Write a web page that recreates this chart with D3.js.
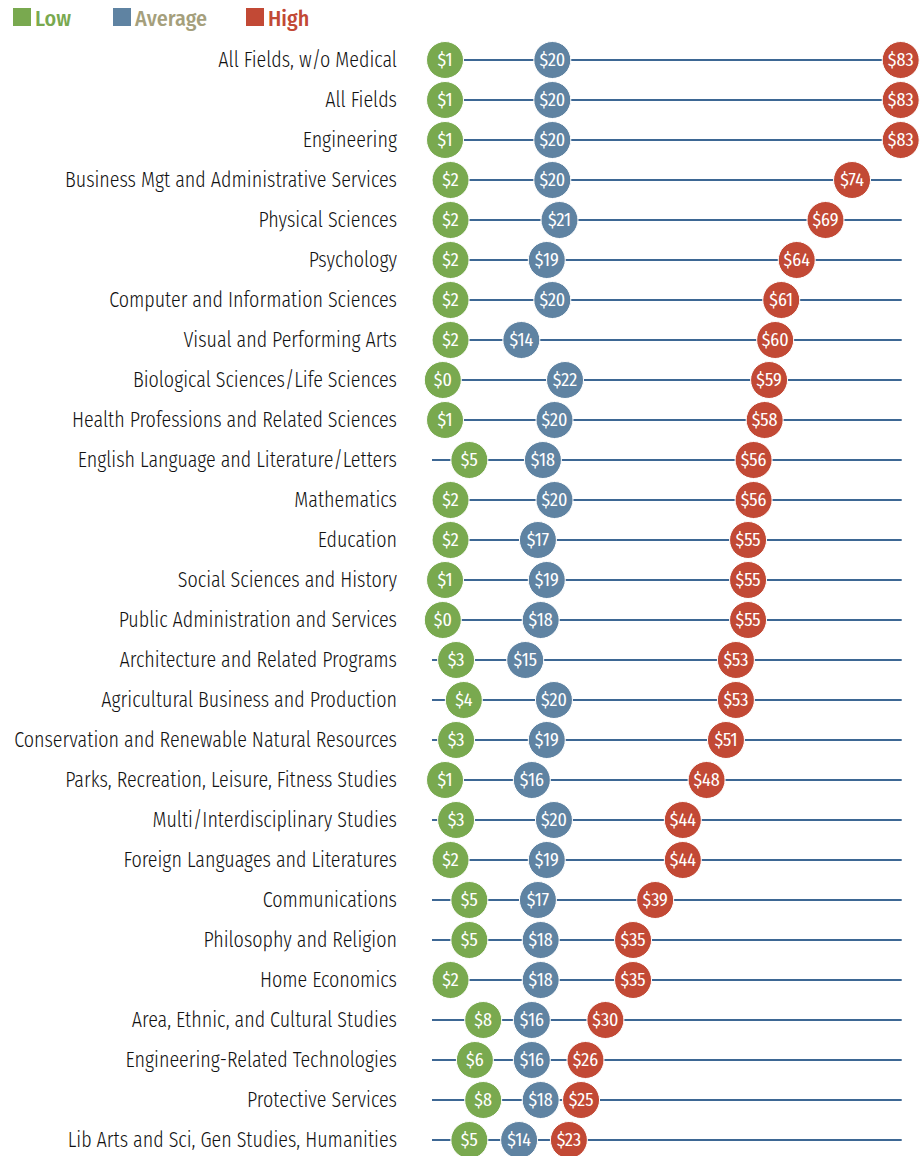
<!DOCTYPE html>
<html><head><meta charset="utf-8">
<script src="https://cdn.jsdelivr.net/npm/d3@7"></script>
<style>
html,body{margin:0;padding:0;background:#fff;}
svg{display:block;}
</style></head>
<body>
<svg id="chart" width="924" height="1156"></svg>
<script>
const categories = [
  "All Fields, w/o Medical","All Fields","Engineering","Business Mgt and Administrative Services",
  "Physical Sciences","Psychology","Computer and Information Sciences","Visual and Performing Arts",
  "Biological Sciences/Life Sciences","Health Professions and Related Sciences",
  "English Language and Literature/Letters","Mathematics","Education","Social Sciences and History",
  "Public Administration and Services","Architecture and Related Programs",
  "Agricultural Business and Production","Conservation and Renewable Natural Resources",
  "Parks, Recreation, Leisure, Fitness Studies","Multi/Interdisciplinary Studies",
  "Foreign Languages and Literatures","Communications","Philosophy and Religion","Home Economics",
  "Area, Ethnic, and Cultural Studies","Engineering-Related Technologies","Protective Services",
  "Lib Arts and Sci, Gen Studies, Humanities"
];
const lowValues  = [0.6,0.6,0.6,1.6,1.6,1.6,1.6,1.6,0.2,0.6,5.0,1.6,1.6,0.6,0.2,2.6,4.0,2.6,0.6,2.6,1.6,5.0,5.0,1.6,7.5,6.0,7.5,5.0];
const avgValues  = [20.0,20.0,20.0,20.0,21.3,19.0,20.0,14.4,22.3,20.4,18.3,20.4,17.4,19.0,17.9,15.1,20.3,19.0,16.3,20.3,19.0,17.4,17.9,17.9,16.3,16.3,17.9,14.0];
const highValues = [83.0,83.0,83.0,74.2,69.4,64.2,61.4,60.3,59.2,58.4,56.4,56.4,55.4,55.4,55.4,53.2,53.2,51.4,47.9,43.6,43.6,38.6,34.6,34.6,29.6,26.0,25.2,23.0];
const seriesNames = ["Low","Average","High"];
const seriesColors = ["#79a94f","#5f83a2","#c24935"];
const legendTextColors = ["#79a94f","#a59f7c","#c24935"];

const svg = d3.select("#chart");
const font = "'Fira Sans Condensed','DejaVu Sans Condensed','Liberation Sans Narrow',sans-serif";

const x = d3.scaleLinear().domain([0, 83]).range([441.7, 900.7]);
const y = d3.scalePoint().domain(categories).range([60, 1140]);
const r = 18.5;

// legend
const leg = svg.append("g");
const legX = [13, 113, 246];
seriesNames.forEach((n,i)=>{
  leg.append("rect").attr("x",legX[i]).attr("y",8).attr("width",18).attr("height",18).attr("fill",seriesColors[i]);
  leg.append("text").attr("x",legX[i]+22).attr("y",26).text(n)
    .attr("font-family",font).attr("font-size",22).attr("font-weight",500)
    .attr("fill",legendTextColors[i]);
});

// category labels
const labels = svg.append("g");
const lt = labels.selectAll("text").data(categories).join("text")
  .attr("x",0).attr("y",0)
  .attr("text-anchor","end")
  .attr("font-family",font).attr("font-size",23).attr("font-weight",300)
  .attr("fill","#111")
  .text(d=>d);
let maxW = 0;
lt.each(function(){ maxW = Math.max(maxW, this.getComputedTextLength()); });
const sx = Math.min(1, 383 / maxW);
lt.attr("transform", d=>`translate(397,${y(d)+7}) scale(${sx},1)`);

// lines
svg.append("g").selectAll("line").data(categories).join("line")
  .attr("x1",432).attr("x2",901.7)
  .attr("y1",d=>y(d)).attr("y2",d=>y(d))
  .attr("stroke","#3d6794").attr("stroke-width",2);

// dots
const series = [lowValues, avgValues, highValues];
series.forEach((vals, si)=>{
  const g = svg.append("g");
  const data = categories.map((c,i)=>({c, v: vals[i]}));
  g.selectAll("circle").data(data).join("circle")
    .attr("cx",d=>x(d.v)).attr("cy",d=>y(d.c)).attr("r",r)
    .attr("fill",seriesColors[si]).attr("stroke","#fff").attr("stroke-width",1);
  g.selectAll("text").data(data).join("text")
    .attr("x",d=>x(d.v)).attr("y",d=>y(d.c)+6)
    .attr("text-anchor","middle")
    .attr("font-family",font).attr("font-size",18).attr("font-weight",400)
    .attr("fill","#fff")
    .text(d=>"$"+Math.round(d.v));
});
</script>
</body></html>
